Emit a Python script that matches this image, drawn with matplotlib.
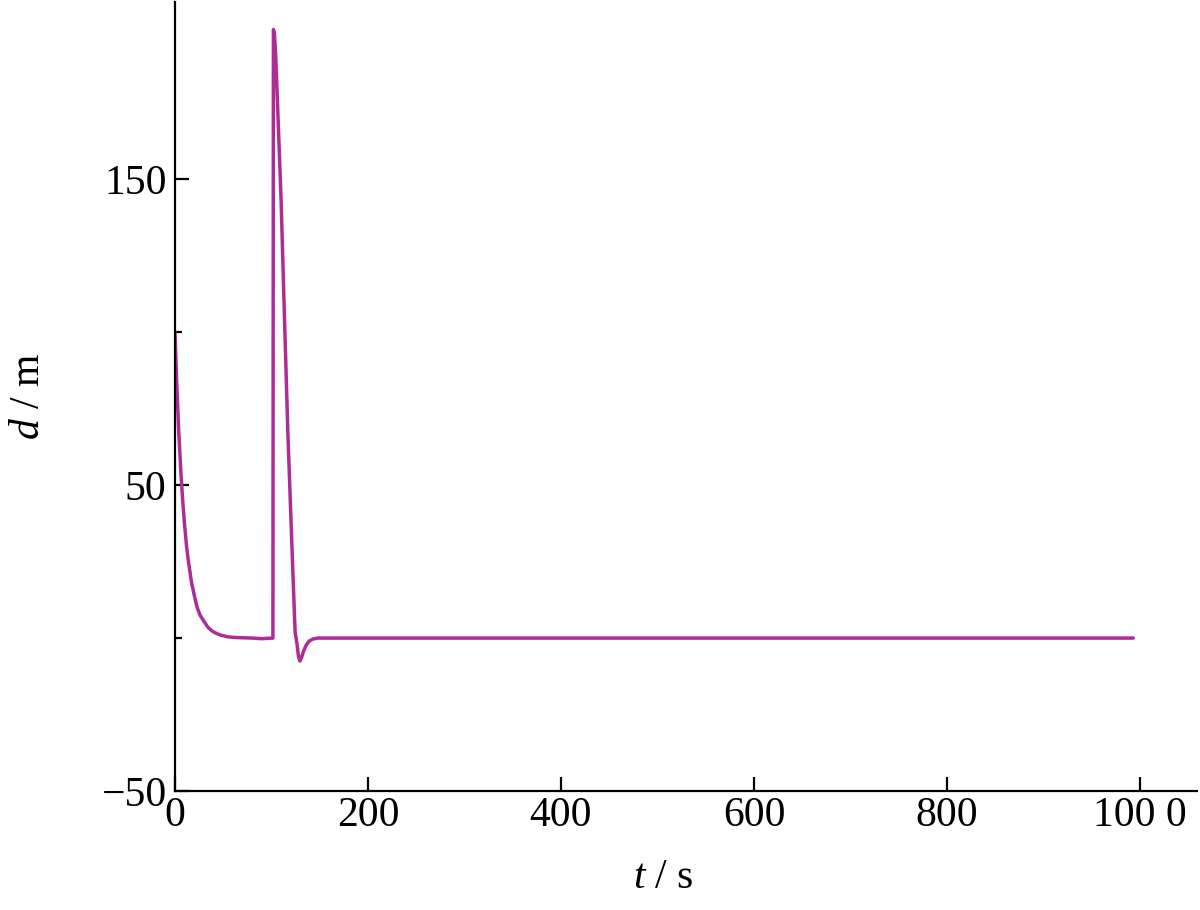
import matplotlib
matplotlib.use("Agg")
import matplotlib.pyplot as plt
from matplotlib.ticker import FixedLocator

plt.rcParams['font.family'] = ['Liberation Serif', 'DejaVu Serif']
plt.rcParams['mathtext.fontset'] = 'custom'
plt.rcParams['mathtext.rm'] = 'Liberation Serif'
plt.rcParams['mathtext.it'] = 'Liberation Serif:italic'

# data
t_vals = [0, 2, 4, 6, 8, 10, 12, 14, 17, 20, 23, 26, 30, 34, 38, 43, 48, 55, 62, 70, 80, 90, 101.5,
          102, 103, 104.5, 106, 110, 113, 117, 122, 124.5, 126.5, 128, 129.5, 131, 133, 136, 139, 143, 148,
          200, 400, 600, 800, 993]
d_vals = [100, 82, 67, 55, 45, 37, 30, 25, 18.5, 14, 10, 7.5, 5.5, 3.6, 2.4, 1.5, 0.9, 0.4, 0.2, 0.1, 0, -0.2, 0,
          199, 198, 190, 177, 143, 110, 67, 23, 2, -2, -6, -7.5, -6.5, -4.5, -2.3, -1, -0.3, 0,
          0, 0, 0, 0, 0]

x_ticks = [0, 200, 400, 600, 800, 1000]
x_ticklabels = ['0', '200', '400', '600', '800', '100 0']
y_ticks = [-50, 50, 150]
y_ticklabels = ['\u221250', '50', '150']
y_minor = [0, 100]

fig = plt.figure(figsize=(12, 9.1), dpi=100)
ax = fig.add_axes([0.1458, 0.1308, 0.8517, 0.867])
ax.plot(t_vals, d_vals, color='#AE2C96', lw=2.5, solid_joinstyle='round', solid_capstyle='round')

ax.set_xlim(0, 1059)
ax.set_ylim(-50, 208)
ax.spines['top'].set_visible(False)
ax.spines['right'].set_visible(False)
for s in ('left', 'bottom'):
    ax.spines[s].set_linewidth(1.6)

ax.set_xticks(x_ticks)
ax.set_xticklabels(x_ticklabels)
ax.set_yticks(y_ticks)
ax.set_yticklabels(y_ticklabels)
ax.yaxis.set_minor_locator(FixedLocator(y_minor))
ax.tick_params(axis='both', which='major', direction='in', length=10, width=1.6, labelsize=30)
ax.tick_params(axis='x', which='major', pad=4)
ax.tick_params(axis='y', which='major', pad=6)
ax.tick_params(axis='y', which='minor', direction='in', length=5, width=1.6)

ax.set_xlabel('$t$ / s', fontsize=30)
ax.xaxis.set_label_coords(0.478, -0.085)
ax.set_ylabel('$d$ / m', fontsize=30)
ax.yaxis.set_label_coords(-0.124, 0.5)

fig.savefig('out.png', dpi=100)
